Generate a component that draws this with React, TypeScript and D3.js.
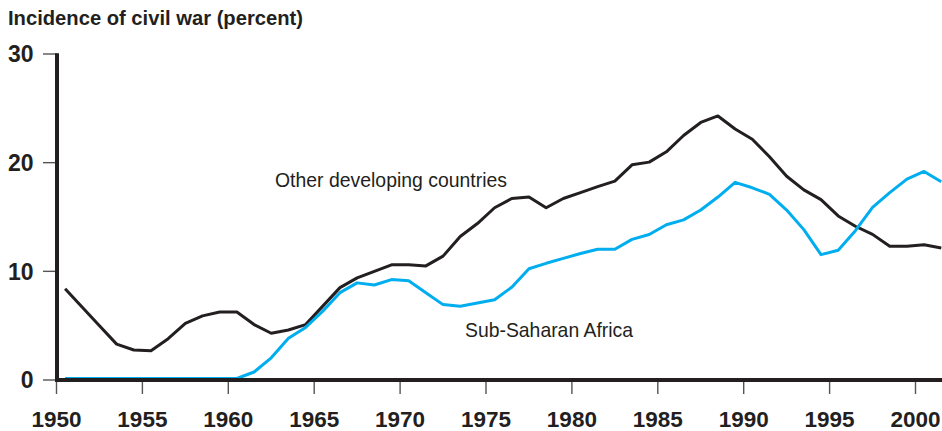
import React from "react";
import * as d3 from "d3";

// Annual observations, 1950–2001 (percent of countries with civil war)
const years: number[] = d3.range(1950, 2002);

const otherDeveloping: number[] = [
  8.4, 6.7, 5.0, 3.3, 2.76, 2.7, 3.8, 5.2, 5.9, 6.25,
  6.25, 5.1, 4.3, 4.6, 5.1, 6.8, 8.5, 9.4, 10.0, 10.6,
  10.6, 10.5, 11.4, 13.2, 14.4, 15.85, 16.7, 16.85, 15.85, 16.7,
  17.25, 17.8, 18.3, 19.8, 20.05, 21.0, 22.5, 23.7, 24.3, 23.1,
  22.15, 20.55, 18.75, 17.5, 16.6, 15.1, 14.15, 13.4, 12.3, 12.3,
  12.45, 12.15,
];

const subSaharanAfrica: number[] = [
  0, 0, 0, 0, 0, 0, 0, 0, 0, 0,
  0, 0.6, 1.9, 3.7, 4.7, 6.2, 7.9, 8.8, 8.6, 9.1,
  9.0, 7.9, 6.8, 6.65, 6.95, 7.25, 8.4, 10.1, 10.6, 11.05,
  11.5, 11.9, 11.9, 12.8, 13.25, 14.15, 14.6, 15.5, 16.7, 18.05,
  17.55, 16.95, 15.5, 13.7, 11.4, 11.8, 13.6, 15.75, 17.1, 18.35,
  19.05, 18.1,
];

const yTicks: number[] = [0, 10, 20, 30];
const xTicks: number[] = [1950, 1955, 1960, 1965, 1970, 1975, 1980, 1985, 1990, 1995, 2000];

const title = "Incidence of civil war (percent)";
const labelOther = "Other developing countries";
const labelAfrica = "Sub-Saharan Africa";

const W = 942;
const H = 431;
const INK = "#231f20";
const BLUE = "#00aeef";

export default function App() {
  const x = d3.scaleLinear().domain([1950, 2000]).range([56.5, 915.5]);
  const y = d3.scaleLinear().domain([0, 30]).range([380, 54]);

  // Each annual value is centred within its year
  const line = d3
    .line<number>()
    .x((_, i) => x(years[i] + 0.5))
    .y((d) => y(d))
    .curve(d3.curveLinear);

  const axisX = x(1950) + 0.5;
  const font = "'Liberation Sans', Arial, sans-serif";

  return (
    <svg
      width={W}
      height={H}
      viewBox={`0 0 ${W} ${H}`}
      style={{ position: "absolute", left: 0, top: 0, background: "#fff" }}
    >
      {/* Title */}
      <text
        x={8}
        y={24.5}
        fontFamily={font}
        fontWeight="bold"
        fontSize={21}
        fill={INK}
        textLength={295}
        lengthAdjust="spacingAndGlyphs"
      >
        {title}
      </text>

      {/* Y ticks and labels */}
      {yTicks.map((t) => (
        <g key={`y${t}`}>
          <line x1={43} x2={axisX} y1={y(t)} y2={y(t)} stroke="#555" strokeWidth={1.4} />
          <text
            x={33.5}
            y={y(t) + 8.3}
            textAnchor="end"
            fontFamily={font}
            fontWeight="bold"
            fontSize={23}
            fill={INK}
          >
            {t}
          </text>
        </g>
      ))}

      {/* X ticks and labels */}
      {xTicks.map((t) => (
        <g key={`x${t}`}>
          <line x1={x(t)} x2={x(t)} y1={y(0)} y2={y(0) + 14} stroke="#555" strokeWidth={1.4} />
          <text
            x={x(t)}
            y={426.5}
            textAnchor="middle"
            fontFamily={font}
            fontWeight="bold"
            fontSize={22.5}
            fill={INK}
          >
            {t}
          </text>
        </g>
      ))}

      {/* Series */}
      <path
        d={line(otherDeveloping) ?? ""}
        fill="none"
        stroke={INK}
        strokeWidth={3}
        strokeLinejoin="round"
      />
      <path
        d={line(subSaharanAfrica) ?? ""}
        fill="none"
        stroke={BLUE}
        strokeWidth={3}
        strokeLinejoin="round"
        transform="translate(0,-1.5)"
      />

      {/* Axes, drawn over the zero-level stretch of the blue series */}
      <line x1={axisX} x2={axisX} y1={y(30) - 0.7} y2={y(0) + 2} stroke={INK} strokeWidth={4} />
      <line x1={axisX - 2} x2={W} y1={y(0)} y2={y(0)} stroke={INK} strokeWidth={4} />

      {/* Series labels */}
      <text
        x={275}
        y={186.7}
        fontFamily={font}
        fontSize={21}
        fill={INK}
        textLength={232}
        lengthAdjust="spacingAndGlyphs"
      >
        {labelOther}
      </text>
      <text
        x={465}
        y={336.7}
        fontFamily={font}
        fontSize={21}
        fill={INK}
        textLength={168}
        lengthAdjust="spacingAndGlyphs"
      >
        {labelAfrica}
      </text>
    </svg>
  );
}
